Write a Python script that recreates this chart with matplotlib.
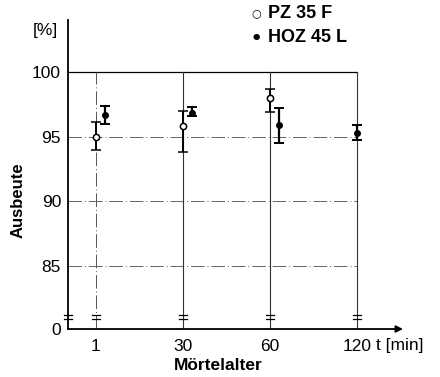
import matplotlib.pyplot as plt

# data
ages = ['1', '30', '60', '120']
pz_pos = [1, 2, 3]
pz_mean = [95.0, 95.8, 98.0]
pz_low = [94.0, 93.8, 96.9]
pz_high = [96.1, 97.0, 98.7]

hoz_pos = [1.1, 2.1, 3.1, 4.0]
hoz_mean = [96.7, 96.85, 95.9, 95.3]
hoz_low = [96.0, 96.6, 94.5, 94.7]
hoz_high = [97.4, 97.3, 97.2, 95.9]

y_ticks = [100, 95, 90, 85]
y_zero = 80.15  # position of the "0" below the axis break

plt.rcParams['font.family'] = ['Liberation Sans', 'DejaVu Sans']

fig = plt.figure(figsize=(4.4, 3.77), dpi=100)
ax = fig.add_axes([68 / 440, 48 / 377, 335 / 440, 309 / 377])
ax.set_xlim(0.68, 4.53)
ax.set_ylim(y_zero, 104)

for s in ['top', 'right', 'bottom']:
    ax.spines[s].set_visible(False)
ax.spines['left'].set_linewidth(1.3)

# x axis with arrow
ax.annotate('', xy=(4.53, y_zero), xytext=(0.68, y_zero),
            arrowprops=dict(arrowstyle='-|>', color='black', lw=1.3,
                            mutation_scale=10, shrinkA=0, shrinkB=0),
            annotation_clip=False)

# grid
ax.plot([0.68, 4], [100, 100], color='black', lw=0.9)
for y in [95, 90, 85]:
    ax.plot([0.68, 4], [y, y], color='#666666', lw=0.7, ls='-.', dashes=(14, 3, 1, 3))
for i, x in enumerate(range(1, 5)):
    if i == 0:
        ax.plot([x, x], [y_zero, 100], color='#555555', lw=0.7, ls='-.', dashes=(14, 3, 1, 3))
    else:
        ax.plot([x, x], [y_zero, 100], color='#333333', lw=0.8)

# axis breaks
for x in [0.68, 1, 2, 3, 4]:
    for y in [80.95, 81.25]:
        ax.plot([x - 0.045, x + 0.045], [y, y], color='black', lw=0.9, clip_on=False)

# data
ax.errorbar(pz_pos, pz_mean,
            yerr=[[m - l for m, l in zip(pz_mean, pz_low)],
                  [h - m for m, h in zip(pz_mean, pz_high)]],
            fmt='o', mfc='white', mec='black', ms=4.5, mew=1.1,
            ecolor='black', elinewidth=1.4, capsize=3.5, capthick=1.4, zorder=5)
ax.errorbar(hoz_pos, hoz_mean,
            yerr=[[m - l for m, l in zip(hoz_mean, hoz_low)],
                  [h - m for m, h in zip(hoz_mean, hoz_high)]],
            fmt='o', mfc='black', mec='black', ms=4, ecolor='black',
            elinewidth=1.6, capsize=3.5, capthick=1.4, zorder=5)

ax.set_xticks([1, 2, 3, 4])
ax.set_xticklabels(ages)
ax.set_yticks([y_zero] + y_ticks)
ax.set_yticklabels(['0'] + [str(v) for v in y_ticks])
ax.tick_params(length=0, labelsize=12.5, pad=5)
ax.tick_params(axis='x', pad=7)

ax.text(4.22, y_zero - 1.25, 't [min]', fontsize=12.5, ha='left', va='center')
ax.text(0.42, 103.2, '[%]', fontsize=12.5, ha='center', va='center',
        transform=ax.transData, clip_on=False)
fig.text(18 / 440, 1 - 200 / 377, 'Ausbeute', rotation=90, fontsize=12,
         fontweight='bold', ha='center', va='center')
fig.text(218 / 440, 1 - 366 / 377, 'Mörtelalter', fontsize=12.5,
         fontweight='bold', ha='center', va='center')

# legend as plain text, like the original
fig.text(256 / 440, 1 - 13 / 377, '○', fontsize=8, ha='center', va='center',
         family='DejaVu Sans')
fig.text(268 / 440, 1 - 13 / 377, 'PZ 35 F', fontsize=13, fontweight='bold',
         ha='left', va='center')
fig.text(256 / 440, 1 - 37 / 377, '●', fontsize=6, ha='center', va='center',
         family='DejaVu Sans')
fig.text(268 / 440, 1 - 37 / 377, 'HOZ 45 L', fontsize=13, fontweight='bold',
         ha='left', va='center')

fig.savefig('out.png', dpi=100)
